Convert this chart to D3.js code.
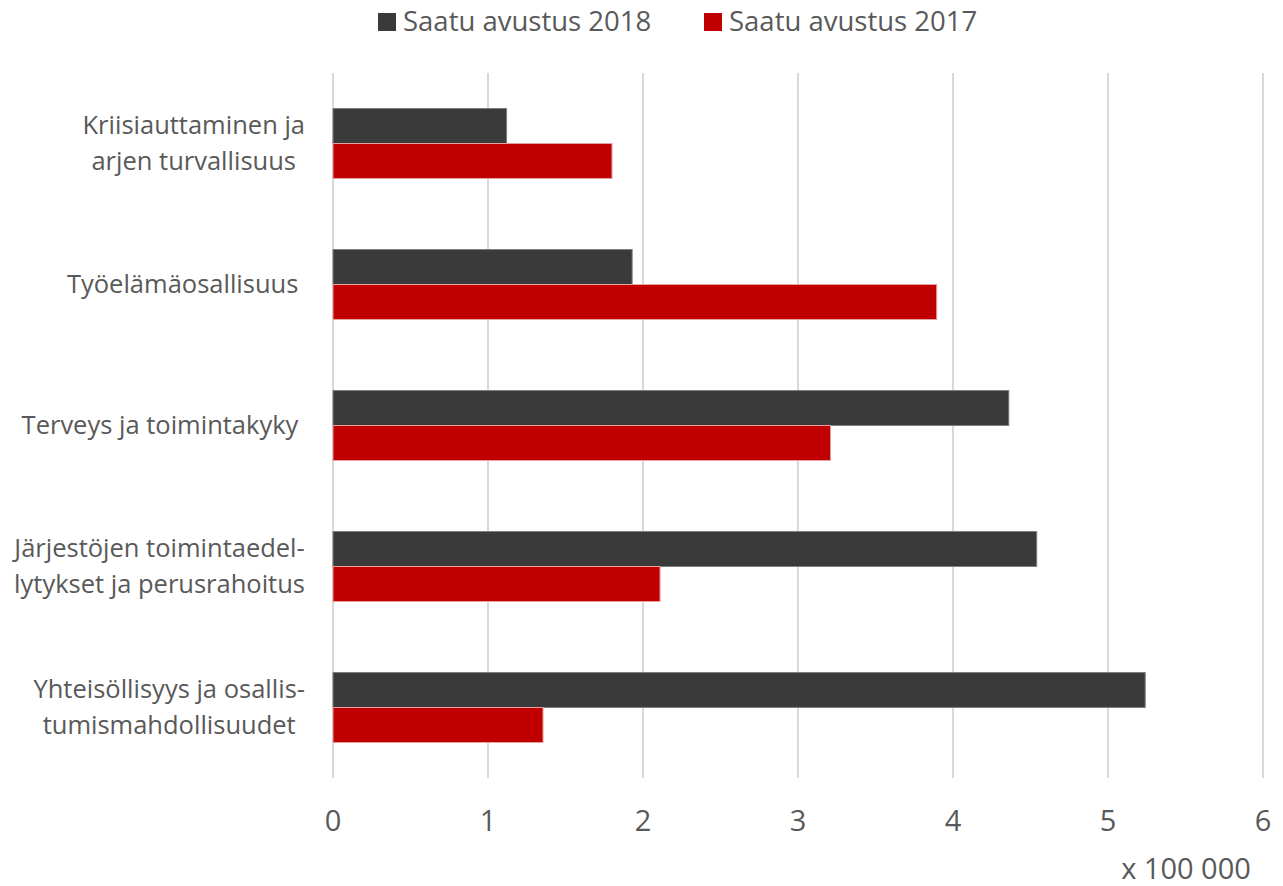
<!DOCTYPE html>
<html>
<head>
<meta charset="utf-8">
<script src="https://cdn.jsdelivr.net/npm/d3@7"></script>
<style>
  body { margin: 0; background: #fff; }
  text { font-family: "Open Sans", sans-serif; fill: #595959; white-space: pre; }
</style>
</head>
<body>
<div id="chart"></div>
<script>
// categories, top to bottom (lines as wrapped in the original)
var categories = [
  ['Kriisiauttaminen ja', 'arjen turvallisuus'],
  ['Työelämäosallisuus '],
  ['Terveys ja toimintakyky '],
  ['Järjestöjen toimintaedel-', 'lytykset ja perusrahoitus'],
  ['Yhteisöllisyys ja osallis-', 'tumismahdollisuudet']
]
var seriesNames = ['Saatu avustus 2018', 'Saatu avustus 2017']
// values in units of 100 000
var values2018 = [1.12, 1.93, 4.36, 4.54, 5.24]
var values2017 = [1.80, 3.895, 3.21, 2.11, 1.355]
var xTicks = [0, 1, 2, 3, 4, 5, 6]
var unitLabel = 'x 100 000'

var w = 1283, h = 886
var colors = ['#3b3a3b', '#c00000']
var strokes = ['#7f7f7f', '#e8a0a0']

var svg = d3.select('#chart').append('svg')
  .attr('width', w)
  .attr('height', h)

var x = d3.scaleLinear()
  .domain([0, 6])
  .range([333, 1263])

var y = d3.scaleBand()
  .domain(d3.range(categories.length))
  .range([73, 778])

// inner band for the two bars (gap width ~100%)
var inner = d3.scaleBand()
  .domain([0, 1])
  .range([0, 70])

// gridlines
svg.append('g')
  .selectAll('line')
  .data(xTicks)
  .enter()
  .append('line')
  .attr('x1', d => x(d))
  .attr('x2', d => x(d))
  .attr('y1', 73)
  .attr('y2', 778)
  .attr('stroke', '#d9d9d9')
  .attr('stroke-width', 2)

// bars
var series = [values2018, values2017]
series.forEach((vals, s) => {
  svg.append('g')
    .selectAll('rect')
    .data(vals)
    .enter()
    .append('rect')
    .attr('x', x(0))
    .attr('y', (d, i) => y(i) + y.bandwidth() / 2 - 35 + inner(s))
    .attr('width', d => x(d) - x(0))
    .attr('height', inner.bandwidth())
    .attr('fill', colors[s])
    .attr('stroke', strokes[s])
    .attr('stroke-width', 1)
})

// x tick labels
svg.append('g')
  .selectAll('text')
  .data(xTicks)
  .enter()
  .append('text')
  .attr('x', d => x(d))
  .attr('y', 831)
  .attr('text-anchor', 'middle')
  .style('font-size', '29px')
  .text(d => d)

svg.append('text')
  .attr('x', 1186)
  .attr('y', 879)
  .attr('text-anchor', 'middle')
  .style('font-size', '29px')
  .text(unitLabel)

// category labels: lines centred in a block that is right aligned
var lineH = 36
categories.forEach((lines, i) => {
  var g = svg.append('g')
  var cy = y(i) + y.bandwidth() / 2
  var texts = g.selectAll('text')
    .data(lines)
    .enter()
    .append('text')
    .attr('y', (d, k) => cy + (k - (lines.length - 1) / 2) * lineH + 8.5)
    .attr('text-anchor', 'middle')
    .style('font-size', '25.5px')
    .text(d => d)
  var maxW = d3.max(texts.nodes(), n => n.getComputedTextLength())
  texts.attr('x', 305 - maxW / 2)
})

// legend
var legendX = [378, 704]
seriesNames.forEach((name, s) => {
  svg.append('rect')
    .attr('x', legendX[s])
    .attr('y', 13)
    .attr('width', 18)
    .attr('height', 18)
    .attr('fill', colors[s])
  svg.append('text')
    .attr('x', legendX[s] + 25)
    .attr('y', 31)
    .style('font-size', '27.5px')
    .text(name)
})
</script>
</body>
</html>
